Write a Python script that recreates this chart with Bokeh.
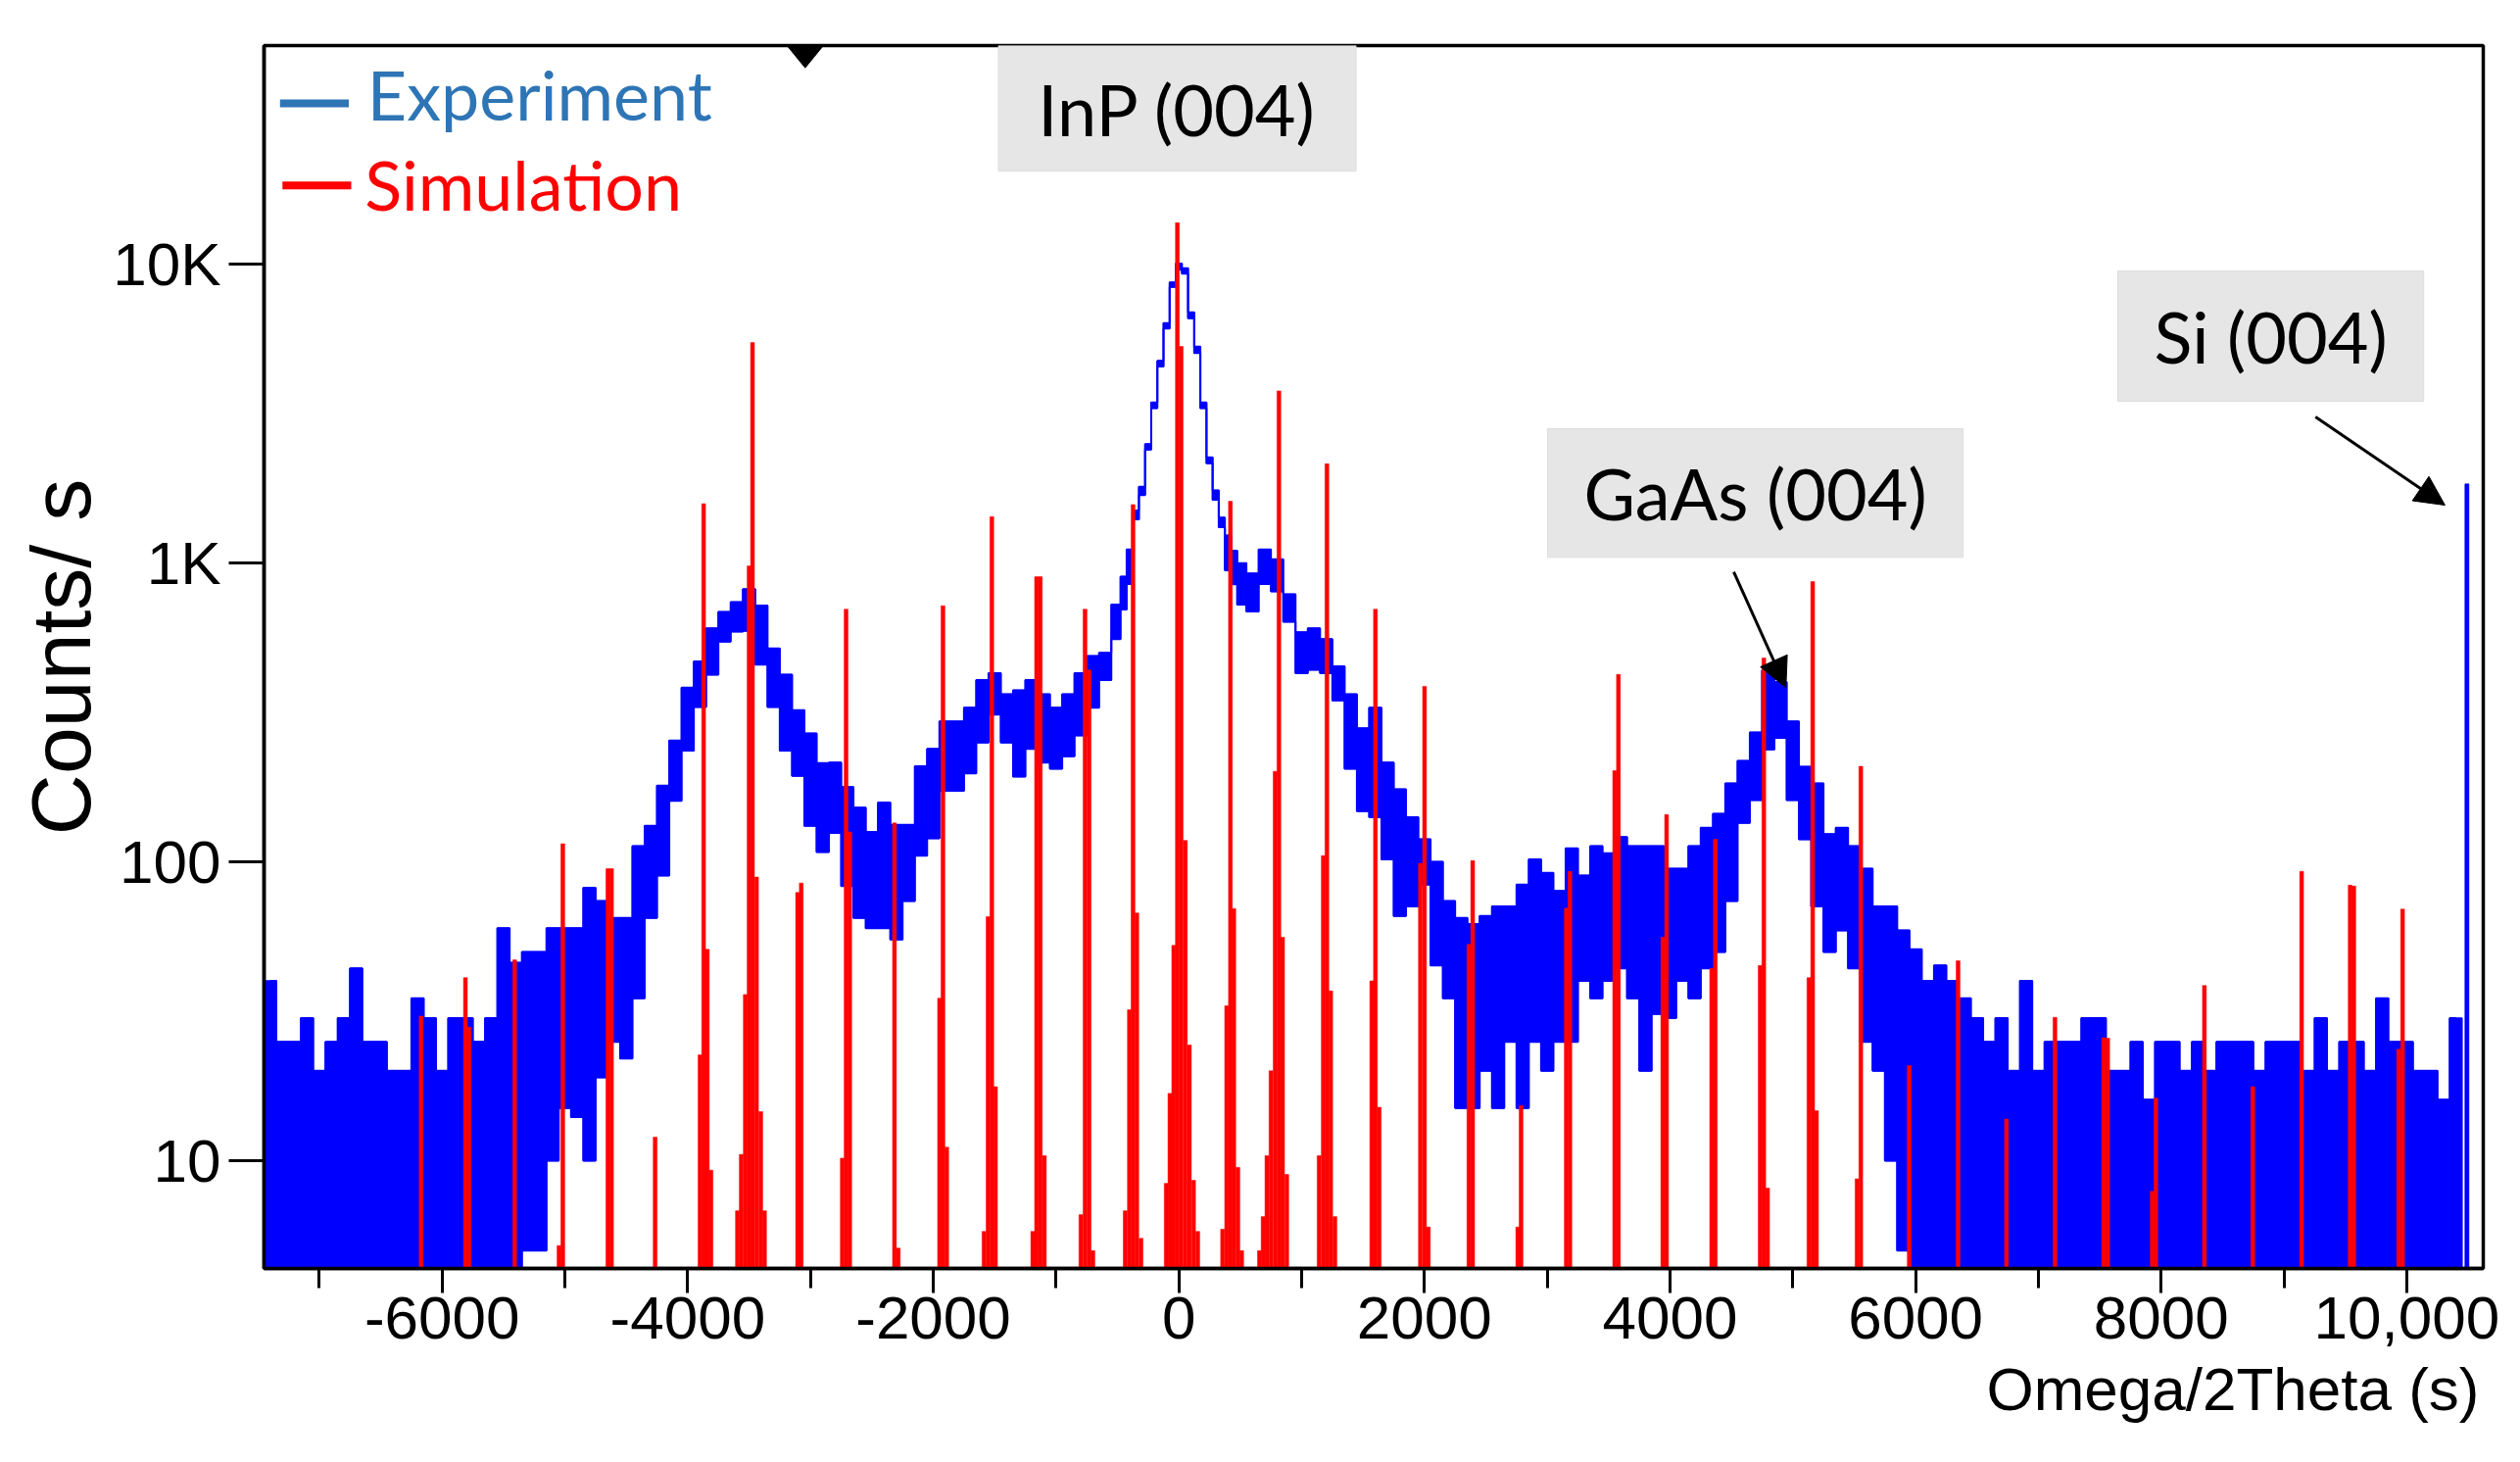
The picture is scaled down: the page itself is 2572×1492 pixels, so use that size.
from bokeh.plotting import figure
from bokeh.models import Range1d, FixedTicker, Label, Arrow, NormalHead, ColumnDataSource, Title
from bokeh.embed import file_html
from bokeh.resources import INLINE

# ---------------- data ----------------
exp_theta = [
    -7400, -7300, -7200, -7100, -7000, -6900, -6800, -6700, -6600, -6500,
    -6400, -6300, -6200, -6100, -6000, -5900, -5800, -5700, -5600, -5500,
    -5400, -5300, -5200, -5100, -5000, -4900, -4800, -4700, -4600, -4500,
    -4400, -4300, -4200, -4100, -4000, -3900, -3800, -3700, -3600, -3500,
    -3400, -3300, -3200, -3100, -3000, -2900, -2800, -2700, -2600, -2500,
    -2400, -2300, -2200, -2100, -2000, -1900, -1800, -1700, -1600, -1500,
    -1400, -1300, -1200, -1100, -1000, -900, -800, -700, -600,
    -500, -450, -400, -350, -300, -250, -200, -150, -100, -50,
    0, 50, 100, 150, 200, 250, 300, 350, 400, 450, 500,
    600, 700, 800, 900, 1000, 1100, 1200, 1300, 1400, 1500,
    1600, 1700, 1800, 1900, 2000, 2100, 2200, 2300, 2400, 2500,
    2600, 2700, 2800, 2900, 3000, 3100, 3200, 3300, 3400, 3500,
    3600, 3700, 3800, 3900, 4000, 4100, 4200, 4300, 4400, 4500,
    4600, 4700, 4800, 4900, 5000, 5100, 5200, 5300, 5400, 5500,
    5600, 5700, 5800, 5900, 6000, 6100, 6200, 6300, 6400, 6500,
    6600, 6700, 6800, 6900, 7000, 7100, 7200, 7300, 7400, 7500,
    7600, 7700, 7800, 7900, 8000, 8100, 8200, 8300, 8400, 8500,
    8600, 8700, 8800, 8900, 9000, 9100, 9200, 9300, 9400, 9500,
    9600, 9700, 9800, 9900, 10000, 10100, 10200, 10300, 10400,
]
exp_high = [
    40, 25, 25, 30, 20, 25, 30, 44, 25, 25,
    20, 20, 35, 30, 20, 30, 30, 25, 30, 60,
    46, 50, 50, 60, 60, 60, 82, 74, 65, 65,
    113, 132, 180, 255, 383, 469, 605, 686, 740, 818,
    721, 518, 423, 322, 269, 214, 215, 178, 152, 126,
    158, 133, 133, 209, 239, 295, 295, 328, 406, 428,
    364, 375, 406, 364, 328, 364, 428, 489, 501,
    727, 900, 1110, 1500, 1800, 2500, 3450, 4750, 6350, 8700,
    10050, 9700, 6900, 5300, 3450, 2260, 1750, 1420, 1237, 1100, 1000,
    923, 1110, 1030, 787, 587, 605, 557, 451, 364, 280,
    328, 215, 175, 141, 119, 100, 74, 65, 62, 66,
    71, 71, 84, 102, 92, 80, 111, 90, 113, 107,
    121, 113, 113, 113, 95, 95, 113, 130, 145, 183,
    218, 271, 437, 400, 295, 208, 183, 124, 130, 113,
    95, 71, 71, 59, 51, 40, 45, 40, 35, 30,
    25, 30, 20, 40, 20, 25, 25, 25, 30, 30,
    20, 20, 25, 16, 25, 25, 20, 25, 20, 25,
    25, 25, 20, 25, 25, 25, 20, 30, 20, 25,
    25, 20, 35, 25, 25, 20, 20, 16, 30,
]
exp_low = [
    4, 4, 4, 4, 4, 4, 4, 4, 4, 4,
    4, 4, 4, 4, 4, 4, 4, 4, 4, 4,
    4, 5, 5, 10, 15, 14, 10, 19, 25, 22,
    35, 65, 90, 160, 236, 330, 423, 546, 590, 593,
    457, 330, 236, 194, 132, 108, 125, 83, 65, 60,
    60, 55, 74, 105, 120, 173, 173, 198, 251, 311,
    251, 193, 239, 215, 205, 226, 265, 328, 406,
    557, 700, 852, 1400, 1690, 2400, 3300, 4550, 6100, 8400,
    9600, 9300, 6600, 5050, 3300, 2160, 1630, 1320, 946, 850, 727,
    689, 852, 805, 637, 428, 440, 428, 347, 205, 148,
    141, 102, 66, 71, 84, 45, 35, 15, 15, 20,
    15, 25, 15, 25, 20, 25, 25, 40, 35, 40,
    44, 35, 20, 31, 30, 40, 35, 44, 50, 74,
    135, 161, 238, 260, 161, 119, 71, 50, 59, 44,
    25, 20, 10, 5, 4, 4, 4, 4, 4, 4,
    4, 4, 4, 4, 4, 4, 4, 4, 4, 4,
    4, 4, 4, 4, 4, 4, 4, 4, 4, 4,
    4, 4, 4, 4, 4, 4, 4, 4, 4, 4,
    4, 4, 4, 4, 4, 4, 4, 4, 4,
]
si_theta = [10490]
si_counts = [1840]

sim_theta = [
    -6171, -5810, -5780, -5409, -5048, -5017, -4650, -4620, -4265,
    -3900, -3870, -3840, -3810,
    -3595, -3564, -3531, -3500, -3472, -3439, -3405, -3374,
    -3105, -3075, -2741, -2710, -2680, -2316, -2285,
    -1949, -1921, -1890, -1587, -1554, -1523, -1493,
    -1190, -1159, -1128, -1095, -798, -764, -731, -700,
    -437, -403, -373, -342, -308,
    -103, -73, -42, -12, 19, 53, 86, 120, 154,
    356, 389, 420, 448, 481, 512,
    656, 686, 717, 750, 784, 815, 845, 879,
    1142, 1176, 1206, 1237, 1271, 1571, 1601, 1632,
    1967, 2001, 2032, 2362, 2393, 2760, 2787, 3155, 3185,
    3549, 3580, 3941, 3972, 4339, 4369, 4734, 4764, 4795,
    5131, 5162, 5193, 5523, 5554, 5948, 6346, 6740, 7135,
    7532, 7565, 7927, 7957, 8352, 8746, 9144, 9539, 9569, 9934, 9966,
]
sim_counts = [
    30.5, 41, 28, 47, 5.2, 115, 95, 95, 12,
    22.6, 1580, 51, 9.3,
    6.8, 10.5, 36, 978, 5470, 89, 14.6, 6.8,
    79, 85, 10.2, 701, 126, 135, 5.1,
    35, 720, 11.1, 5.8, 65.6, 1430, 17.7,
    5.8, 900, 900, 10.4, 6.6, 701, 439, 5,
    6.8, 32, 1570, 67.5, 5.5,
    8.4, 16.8, 52.6, 13770, 5310, 118, 24.4, 8.6, 5.8,
    5.9, 33, 1610, 69.8, 9.5, 5,
    5, 6.5, 10.4, 20, 201, 3770, 56, 9,
    10.4, 105, 2150, 37, 6.5, 40, 701, 15.1,
    99, 387, 6.0, 53, 101, 6, 15.3, 70, 93,
    202, 424, 56, 144, 44, 119, 45, 481, 8.1,
    41, 867, 14.7, 8.7, 209, 20.8, 46.7, 13.8, 30.2,
    25.8, 25.7, 7.9, 16.2, 38.6, 17.7, 93, 83.6, 83, 23.6, 69.5,
]

x_ticks = [-6000, -4000, -2000, 0, 2000, 4000, 6000, 8000, 10000]
x_tick_labels = ["-6000", "-4000", "-2000", "0", "2000", "4000", "6000", "8000", "10,000"]
x_minor_ticks = [-7000, -5000, -3000, -1000, 1000, 3000, 5000, 7000, 9000]
y_ticks = [10, 100, 1000, 10000]
y_tick_labels = ["10", "100", "1K", "10K"]

series_names = ["Experiment", "Simulation"]
peak_names = ["InP (004)", "GaAs (004)", "Si (004)"]

# ---------------- figure ----------------
BLUE = "#0000FF"
RED = "#FF0000"
FLOOR = 4

p = figure(width=2556, height=1476,
           x_range=Range1d(-7450, 10623), y_range=Range1d(4.36, 53950),
           y_axis_type="log", output_backend="svg", toolbar_location=None,
           min_border_left=269, min_border_right=22, min_border_top=46,
           min_border_bottom=182)
p.grid.visible = False
p.background_fill_color = "white"
p.border_fill_color = "white"
p.outline_line_color = "black"
p.outline_line_width = 3.5

# experiment band: bin edges halfway between neighbouring samples
edges = [exp_theta[0] - (exp_theta[1] - exp_theta[0]) / 2]
for a, b in zip(exp_theta[:-1], exp_theta[1:]):
    edges.append((a + b) / 2)
edges.append(exp_theta[-1] + (exp_theta[-1] - exp_theta[-2]) / 2)
src = ColumnDataSource(dict(left=edges[:-1], right=edges[1:],
                            top=exp_high, bottom=exp_low))
p.quad(left="left", right="right", top="top", bottom="bottom", source=src,
       fill_color=BLUE, line_color=BLUE, line_width=1.5)
p.step(exp_theta, exp_high, mode="center", line_color=BLUE, line_width=2)
p.step(exp_theta, exp_low, mode="center", line_color=BLUE, line_width=2)
p.vbar(x=si_theta, top=si_counts, bottom=FLOOR, width=30,
       fill_color=BLUE, line_color=BLUE, line_width=1)

# simulation
p.vbar(x=sim_theta, top=sim_counts, bottom=FLOOR, width=31,
       fill_color=RED, line_color=RED, line_width=0.5)

# axes
for ax in p.xaxis:
    ax.ticker = FixedTicker(ticks=x_ticks, minor_ticks=x_minor_ticks)
    ax.major_label_overrides = dict(zip(x_ticks, x_tick_labels))
    ax.major_tick_out = 25
    ax.major_tick_in = 0
    ax.minor_tick_out = 20
    ax.minor_tick_in = 0
    ax.major_label_standoff = 4
for ax in p.yaxis:
    ax.ticker = FixedTicker(ticks=y_ticks, minor_ticks=[])
    ax.major_label_overrides = dict(zip(y_ticks, y_tick_labels))
    ax.major_tick_out = 36
    ax.major_tick_in = 0
    ax.minor_tick_out = 0
    ax.major_label_standoff = 8
    ax.axis_label = "Counts/ s"
    ax.axis_label_text_font = "Liberation Sans"
    ax.axis_label_text_font_size = "86px"
    ax.axis_label_text_font_style = "normal"
    ax.axis_label_text_color = "black"
    ax.axis_label_standoff = 2
for ax in list(p.xaxis) + list(p.yaxis):
    ax.axis_line_width = 3.5
    ax.axis_line_color = "black"
    ax.major_tick_line_width = 3
    ax.minor_tick_line_width = 3
    ax.major_tick_line_color = "black"
    ax.minor_tick_line_color = "black"
    ax.major_label_text_font = "Liberation Sans"
    ax.major_label_text_font_size = "62px"
    ax.major_label_text_color = "black"

xlabel = Title(text="Omega/2Theta (s)", align="right", text_font="Liberation Sans",
               text_font_size="62px", text_font_style="normal", text_color="black",
               standoff=24, offset=4)
p.add_layout(xlabel, "below")

# legend (manual)
p.segment(x0=[-7320], x1=[-6760], y0=[34550], y1=[34550],
          line_color="#2E75B6", line_width=8)
p.segment(x0=[-7300], x1=[-6740], y0=[18370], y1=[18370],
          line_color=RED, line_width=8)
p.add_layout(Label(x=-6610, y=37250, text=series_names[0], text_align="left",
                   text_baseline="alphabetic", text_font="Lato",
                   text_font_size="70px", text_color="#2E75B6"))
p.add_layout(Label(x=-6630, y=18580, text=series_names[1], text_align="left",
                   text_baseline="alphabetic", text_font="Lato",
                   text_font_size="70px", text_color=RED))

# cursor marker at top
p.patch(x=[-3191, -2895, -3043], y=[53950, 53950, 45450],
        fill_color="black", line_color="black")

# peak annotation boxes
p.quad(left=[-1469, 3003, 7646], right=[1443, 6387, 10138],
       top=[53950, 2820, 9510], bottom=[20500, 1045, 3480],
       fill_color="#E6E6E6", line_color="#DDDDDD", line_width=1)
for (lx, ly, txt) in [(-13, 33250, peak_names[0]),
                      (4695, 1717, peak_names[1]),
                      (8892, 5753, peak_names[2])]:
    p.add_layout(Label(x=lx, y=ly, text=txt, text_align="center",
                       text_baseline="middle", text_font="Lato",
                       text_font_size="72px", text_color="black"))

# arrows
p.add_layout(Arrow(end=NormalHead(size=30, fill_color="black", line_color="black"),
                   x_start=4519, y_start=935, x_end=4944, y_end=383,
                   line_width=3, line_color="black"))
p.add_layout(Arrow(end=NormalHead(size=30, fill_color="black", line_color="black"),
                   x_start=9257, y_start=3083, x_end=10311, y_end=1563,
                   line_width=3, line_color="black"))

open("out.html", "w").write(file_html(p, INLINE))
